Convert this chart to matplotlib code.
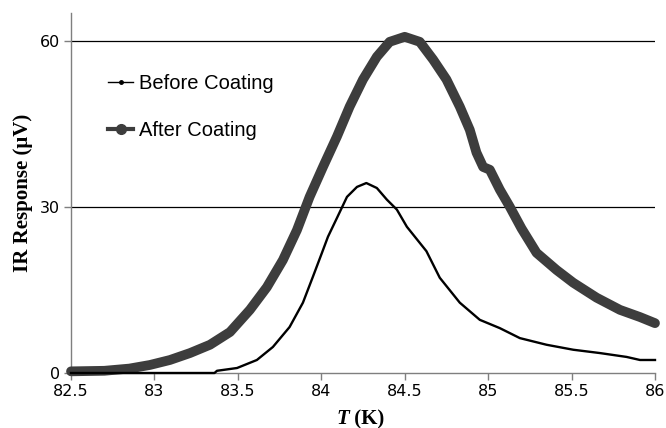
import matplotlib
matplotlib.use("Agg")
import matplotlib.pyplot as plt
from matplotlib.lines import Line2D

# données
t_before = [82.5, 83.0, 83.36, 83.375, 83.495, 83.614, 83.71, 83.81, 83.89, 83.95,
            84.004, 84.04, 84.094, 84.154, 84.214, 84.27, 84.333, 84.393, 84.453, 84.513,
            84.63, 84.71, 84.83, 84.95, 85.07, 85.19, 85.35, 85.51, 85.67, 85.83,
            85.91, 86.0]
ir_before = [0, 0, 0, 0.4, 0.9, 2.35, 4.7, 8.3, 12.7, 17.4,
             21.7, 24.6, 28.0, 31.8, 33.6, 34.3, 33.4, 31.3, 29.5, 26.4,
             22.0, 17.2, 12.7, 9.6, 8.1, 6.3, 5.1, 4.2, 3.6, 2.9,
             2.35, 2.35]

t_after = [82.5, 82.7, 82.85, 82.973, 83.093, 83.213, 83.333, 83.453, 83.572, 83.674,
           83.77, 83.854, 83.93, 84.01, 84.094, 84.17, 84.25, 84.333, 84.41, 84.5,
           84.59, 84.67, 84.75, 84.83, 84.89, 84.93, 84.97, 85.01, 85.07, 85.13,
           85.2, 85.29, 85.41, 85.51, 85.65, 85.79, 85.91, 86.0]
ir_after = [0.3, 0.4, 0.8, 1.45, 2.35, 3.6, 5.1, 7.4, 11.4, 15.5,
            20.4, 25.8, 31.8, 37.2, 42.7, 48.1, 53.0, 57.1, 59.8, 60.7,
            59.8, 56.6, 53.0, 48.1, 43.9, 39.8, 37.2, 36.7, 33.1, 30.0,
            26.1, 21.7, 18.6, 16.3, 13.6, 11.4, 10.1, 9.0]

x_ticks = [82.5, 83, 83.5, 84, 84.5, 85, 85.5, 86]
x_tick_labels = ["82.5", "83", "83.5", "84", "84.5", "85", "85.5", "86"]
y_ticks = [0, 30, 60]

fig = plt.figure(figsize=(6.66, 4.28), dpi=100)
ax = fig.add_axes([71 / 666, 1 - 373 / 428, 584 / 666, 360 / 428])

# grille horizontale
for y in y_ticks[1:]:
    ax.axhline(y, color="black", lw=0.9, zorder=1)

ax.plot(t_after, ir_after, color="#3d3d3d", lw=7, solid_capstyle="round",
        solid_joinstyle="round", clip_on=False, zorder=3)
ax.plot(t_before, ir_before, color="black", lw=1.7, solid_joinstyle="round",
        clip_on=False, zorder=4)

ax.set_xlim(82.5, 86)
ax.set_ylim(0, 65)
ax.set_xticks(x_ticks)
ax.set_xticklabels(x_tick_labels)
ax.set_yticks(y_ticks)

for s in ["top", "right"]:
    ax.spines[s].set_visible(False)
for s in ["left", "bottom"]:
    ax.spines[s].set_color("#7f7f7f")
    ax.spines[s].set_linewidth(1.0)
ax.tick_params(axis="both", direction="out", length=5, width=1.0,
               color="#7f7f7f", labelsize=11.5, pad=3)

# étiquettes des axes
ax.set_ylabel("IR Response (\u03bcV)", family="Liberation Serif",
              fontweight="bold", fontsize=15, labelpad=5)
tl = fig.text(336 / 666, 1 - 424 / 428, "T", family="Liberation Serif",
              fontweight="bold", style="italic", fontsize=15)
ax.annotate(" (K)", xy=(1, 0), xycoords=tl, va="bottom",
            family="Liberation Serif", fontweight="bold", fontsize=15)

# légende
handles = [
    Line2D([], [], color="black", lw=1, marker="o", ms=2.5),
    Line2D([], [], color="#3d3d3d", lw=3, marker="o", ms=7),
]
ax.legend(handles, ["Before Coating", "After Coating"], loc="upper left",
          bbox_to_anchor=(92 / 666, 1 - 58 / 428), bbox_transform=fig.transFigure,
          frameon=False, prop={"family": "Liberation Sans", "size": 14.5},
          handlelength=1.25, handletextpad=0.3, labelspacing=1.4,
          borderpad=0.3)

fig.savefig("out.png", dpi=100)
